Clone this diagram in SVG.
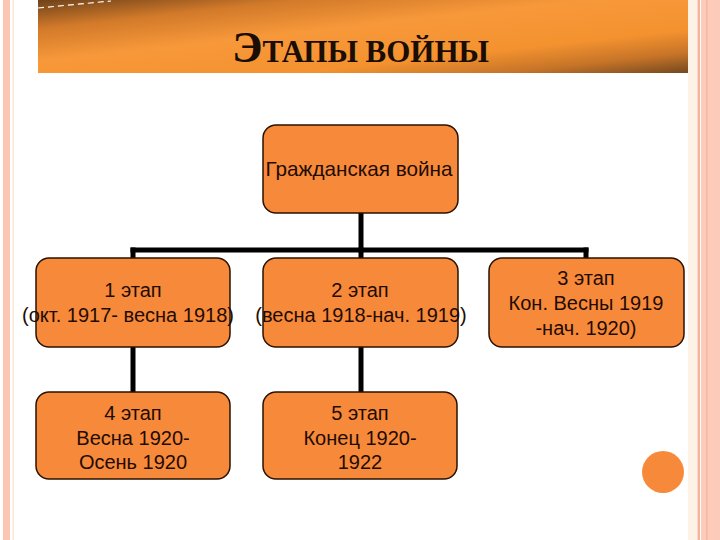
<svg xmlns="http://www.w3.org/2000/svg" width="720" height="540" viewBox="0 0 720 540">
<defs>
<linearGradient id="bar" x1="0" y1="0" x2="1" y2="1">
<stop offset="0" stop-color="#6e4219"/>
<stop offset="0.2" stop-color="#d27a2a"/>
<stop offset="0.42" stop-color="#f7983a"/>
<stop offset="0.7" stop-color="#f4922f"/>
<stop offset="0.86" stop-color="#c67428"/>
<stop offset="1" stop-color="#74481f"/>
</linearGradient>
<style>
.node rect{fill:#f7893a;stroke:#2a1200;stroke-width:1.5}
.node text{font-family:"Liberation Sans",Arial,sans-serif;font-size:20px;fill:#1f0c02;text-anchor:middle}
.conn line{stroke:#000;stroke-width:5;stroke-linecap:square}
</style>
</defs>
<rect x="0" y="0" width="720" height="540" fill="#ffffff"/>
<!-- borders -->
<rect x="3" y="0" width="7" height="540" fill="#fbc7b2"/>
<rect x="12.5" y="0" width="1.5" height="540" fill="#fbe6d6"/>
<rect x="688" y="0" width="9" height="540" fill="#fdf2e6"/>
<rect x="697.5" y="0" width="2.5" height="540" fill="#f3b49a"/>
<rect x="701" y="0" width="19" height="540" fill="#fccbb9"/>
<rect x="706" y="0" width="1.5" height="540" fill="#f5b8a0"/>
<!-- title bar -->
<rect x="38" y="0" width="650" height="73" fill="url(#bar)"/>
<line x1="38" y1="8" x2="111" y2="1" stroke="#ffffff" stroke-width="1.2" stroke-dasharray="6,4"/>
<text x="232" y="62" font-family="'Liberation Serif','Times New Roman',serif" font-weight="bold" fill="#1a0d04"><tspan font-size="45">Э</tspan><tspan font-size="31">ТАПЫ ВОЙНЫ</tspan></text>
<!-- connectors -->
<g id="connectors" class="conn">
<line x1="361" y1="213" x2="361" y2="250"/>
<line x1="133" y1="250" x2="586" y2="250"/>
<line x1="133" y1="250" x2="133" y2="258"/>
<line x1="361" y1="250" x2="361" y2="258"/>
<line x1="586" y1="250" x2="586" y2="258"/>
<line x1="133" y1="347" x2="133" y2="392"/>
<line x1="361" y1="347" x2="361" y2="392"/>
</g>
<g id="root" class="node">
<rect x="263" y="125" width="195" height="88" rx="13"/>
<text x="359" y="176" font-size="20.7px" style="font-size:20.7px">Гражданская война</text>
</g>
<g id="stage1" class="node">
<rect x="36" y="258" width="194" height="89" rx="13"/>
<text x="133" y="297">1 этап</text>
<text x="128" y="322">(окт. 1917- весна 1918)</text>
</g>
<g id="stage2" class="node">
<rect x="263" y="258" width="195" height="89" rx="13"/>
<text x="360" y="297">2 этап</text>
<text x="361" y="322">(весна 1918-нач. 1919)</text>
</g>
<g id="stage3" class="node">
<rect x="489" y="258" width="195" height="89" rx="13"/>
<text x="586" y="285">3 этап</text>
<text x="586" y="310">Кон. Весны 1919</text>
<text x="586" y="335">-нач. 1920)</text>
</g>
<g id="stage4" class="node">
<rect x="36" y="392" width="194" height="87" rx="13"/>
<text x="133" y="420">4 этап</text>
<text x="133" y="445">Весна 1920-</text>
<text x="133" y="469">Осень 1920</text>
</g>
<g id="stage5" class="node">
<rect x="263" y="392" width="194" height="87" rx="13"/>
<text x="360" y="420">5 этап</text>
<text x="360" y="445">Конец 1920-</text>
<text x="360" y="469">1922</text>
</g>
<circle cx="663" cy="472" r="21" fill="#f7893a"/>
</svg>
